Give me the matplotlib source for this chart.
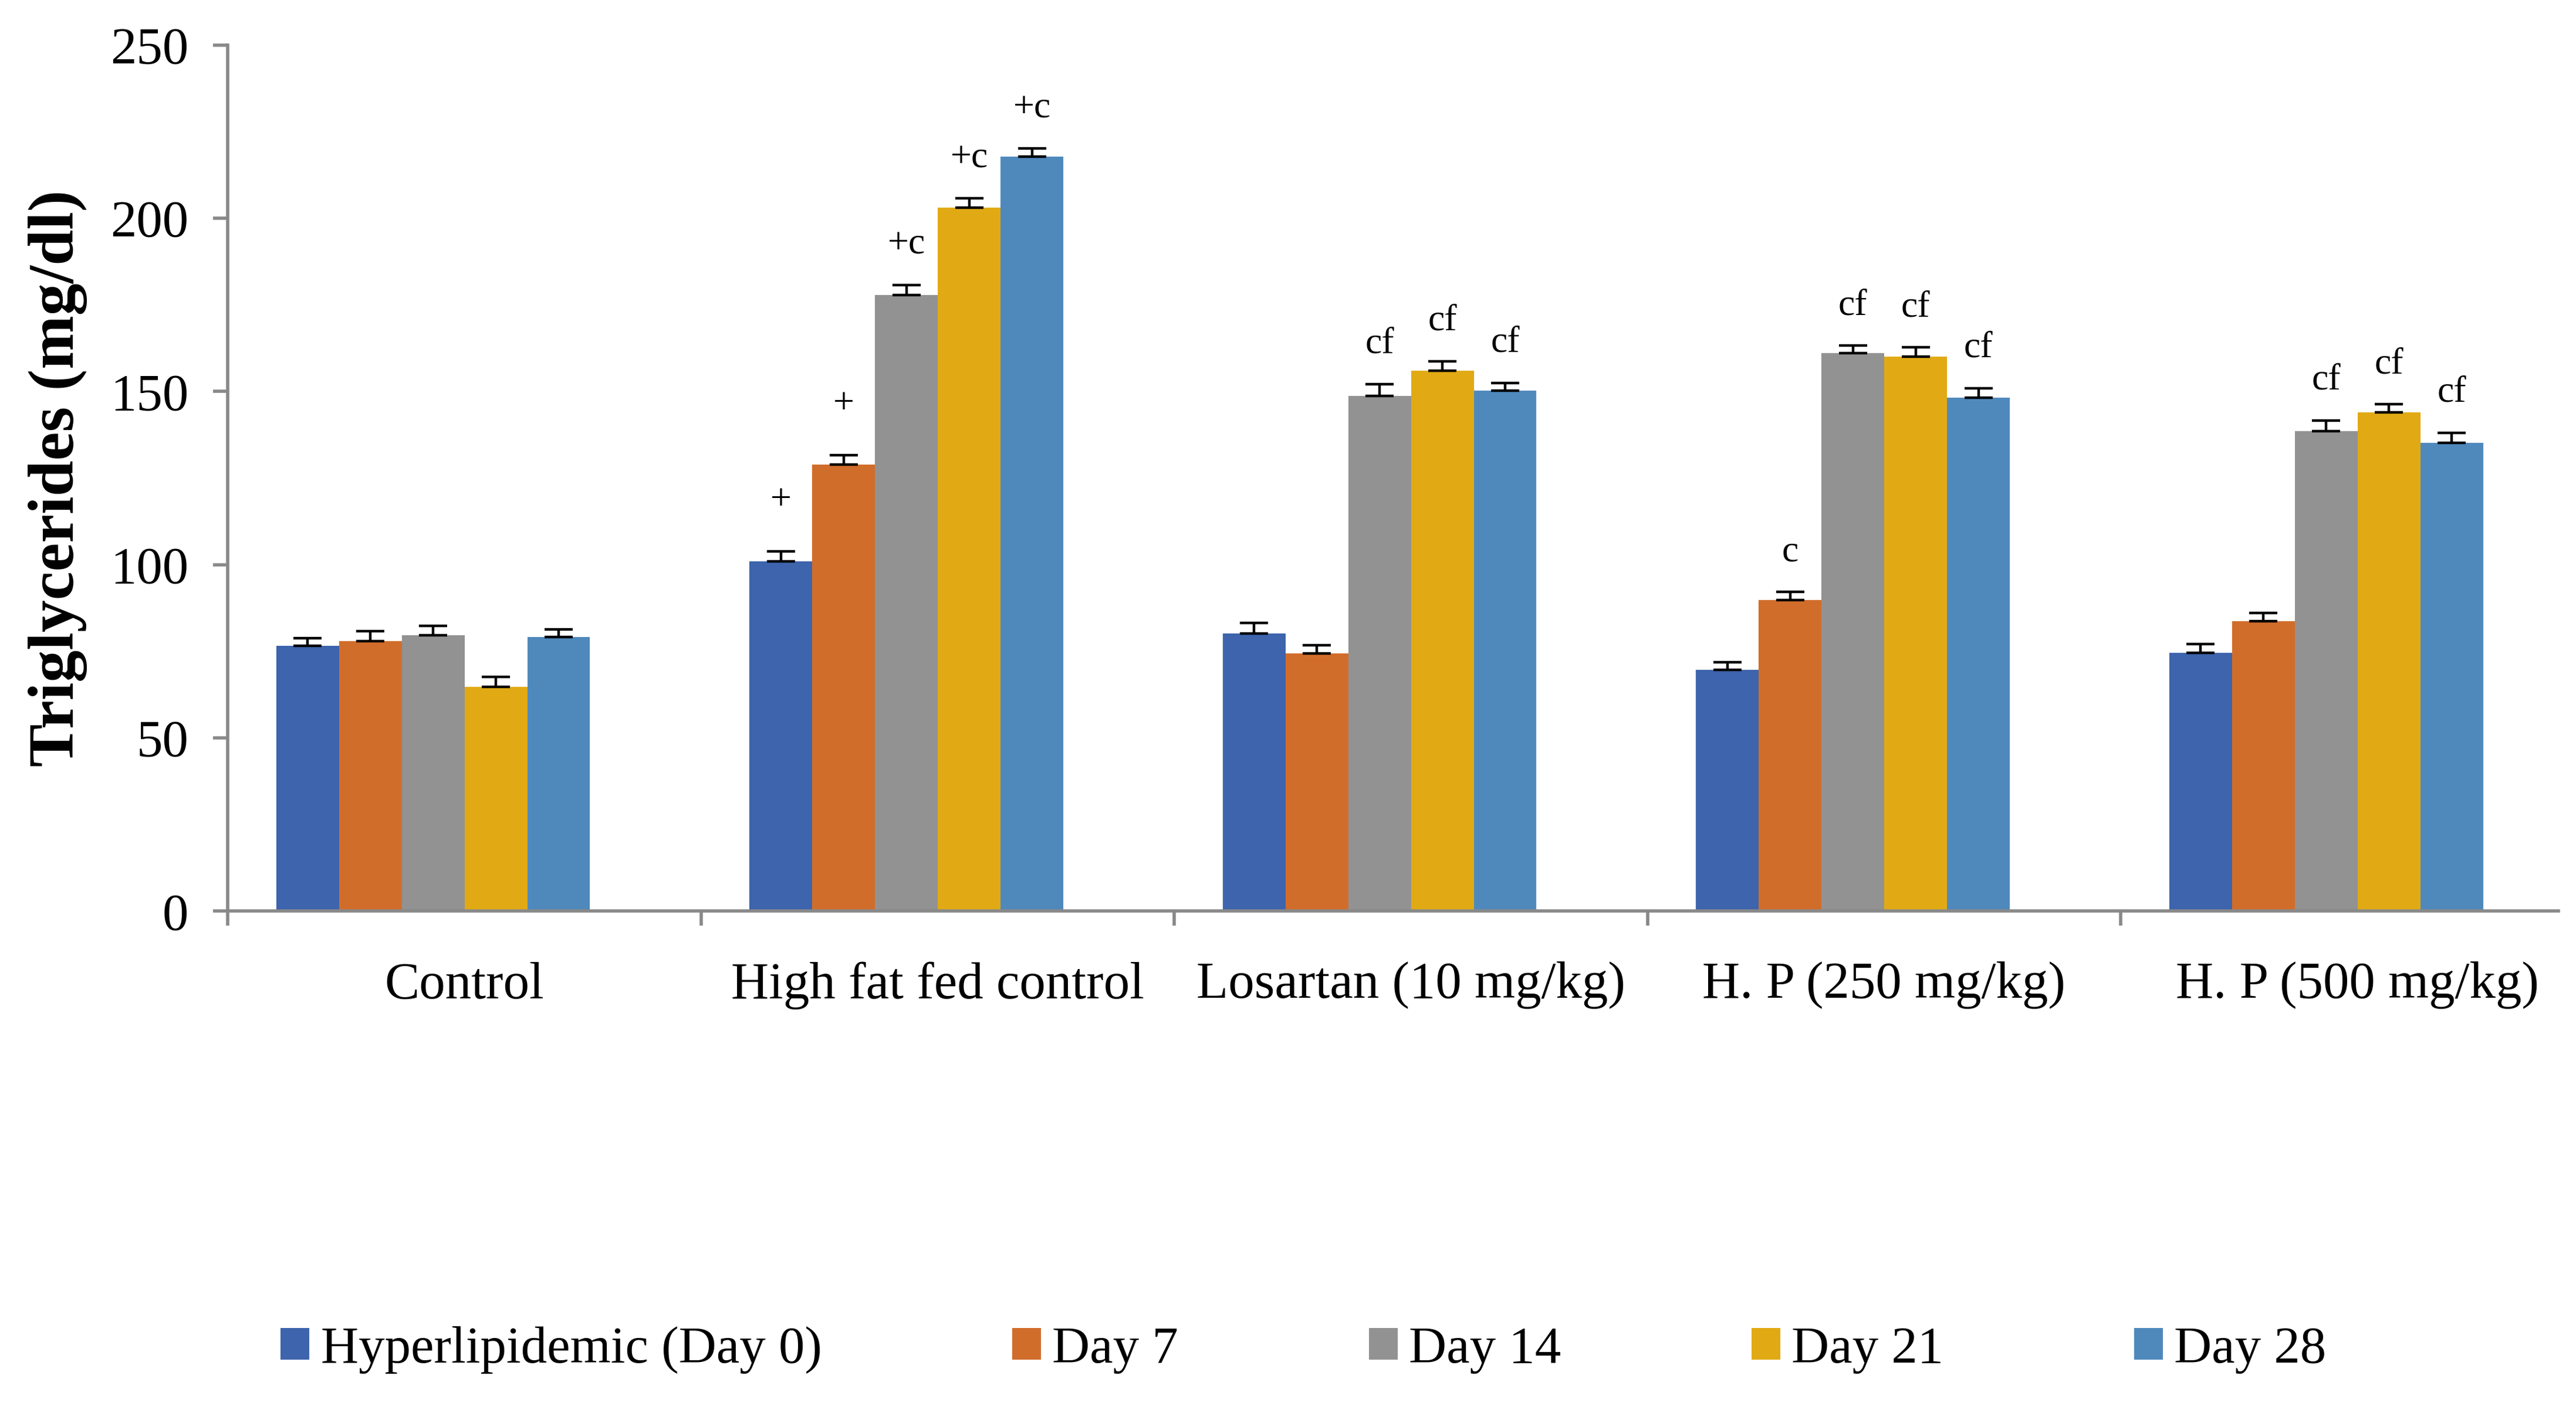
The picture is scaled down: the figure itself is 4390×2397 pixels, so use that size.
import matplotlib
matplotlib.use("Agg")
import matplotlib.pyplot as plt
import numpy as np

plt.rcParams['font.family'] = ['Liberation Serif', 'DejaVu Serif']

groups = ["Control", "High fat fed control", "Losartan (10 mg/kg)",
          "H. P (250 mg/kg)", "H. P (500 mg/kg)"]
series = ["Hyperlipidemic (Day 0)", "Day 7", "Day 14", "Day 21", "Day 28"]
colors = ["#3D64AC", "#D16D2B", "#929292", "#E1AA14", "#4F89BC"]

# mean values per series (rows) across groups (columns)
day0 = [76.6, 100.9, 80.2, 69.6, 74.6]
day7 = [78.0, 128.9, 74.3, 89.8, 83.6]
day14 = [79.7, 177.8, 148.7, 161.0, 138.6]
day21 = [64.8, 203.0, 156.0, 160.0, 144.0]
day28 = [79.1, 217.8, 150.3, 148.2, 135.1]
values = [day0, day7, day14, day21, day28]

err0 = [2.2, 2.9, 2.9, 2.2, 2.4]
err7 = [2.8, 2.7, 2.4, 2.3, 2.4]
err14 = [2.7, 2.9, 3.4, 2.2, 3.0]
err21 = [2.8, 2.7, 2.7, 2.7, 2.3]
err28 = [2.2, 2.3, 2.2, 2.7, 3.0]
errors = [err0, err7, err14, err21, err28]

# significance letters, same layout as values
marks = [
    ["", "+", "", "", ""],
    ["", "+", "", "c", ""],
    ["", "+c", "cf", "cf", "cf"],
    ["", "+c", "cf", "cf", "cf"],
    ["", "+c", "cf", "cf", "cf"],
]

fig = plt.figure(figsize=(21.95, 11.985), dpi=200)
ax = fig.add_axes([0.0884, 0.352, 0.9048, 0.616])

x = np.arange(len(groups))
width = 0.1326
shift = -0.066  # bars sit a little left of the category centre in the original
for i, (name, vals, errs, col) in enumerate(zip(series, values, errors, colors)):
    pos = x + shift + (i - 2) * width
    ax.bar(pos, vals, width, color=col, label=name, zorder=2)
    ax.errorbar(pos, vals, yerr=[np.zeros(len(errs)), errs], fmt='none',
                ecolor='black', elinewidth=1.6, capsize=8.5, capthick=1.6, zorder=3)
    for p, v, e, m in zip(pos, vals, errs, marks[i]):
        if m:
            off = 12 if m == "+" else 9
            ax.text(p, v + e + off, m, ha='center', va='baseline', fontsize=23)

ax.set_xlim(-0.5, 4.425)
ax.set_ylim(0, 250)
ax.set_yticks(np.arange(0, 251, 50))
ax.set_xticks(x)
ax.set_xticklabels(groups, fontsize=32)
ax.set_xticks(np.arange(0, 5) - 0.5, minor=True)
ax.tick_params(axis='x', which='major', length=0, pad=31)
ax.tick_params(axis='x', which='minor', length=9, width=2, color='#898989', direction='out')
ax.tick_params(axis='y', labelsize=32, length=9, width=2, color='#898989', pad=15)

for s in ['top', 'right']:
    ax.spines[s].set_visible(False)
for s in ['left', 'bottom']:
    ax.spines[s].set_color('#898989')
    ax.spines[s].set_linewidth(2)

ax.set_ylabel("Triglycerides (mg/dl)", fontsize=39.5, fontweight='bold', labelpad=14)

fig.legend(loc='center', bbox_to_anchor=(0.506, 0.04), ncol=5, frameon=False,
           fontsize=32, handlelength=0.55, handleheight=0.55, handletextpad=0.22,
           columnspacing=3.65)

fig.savefig("out.png", dpi=200)
